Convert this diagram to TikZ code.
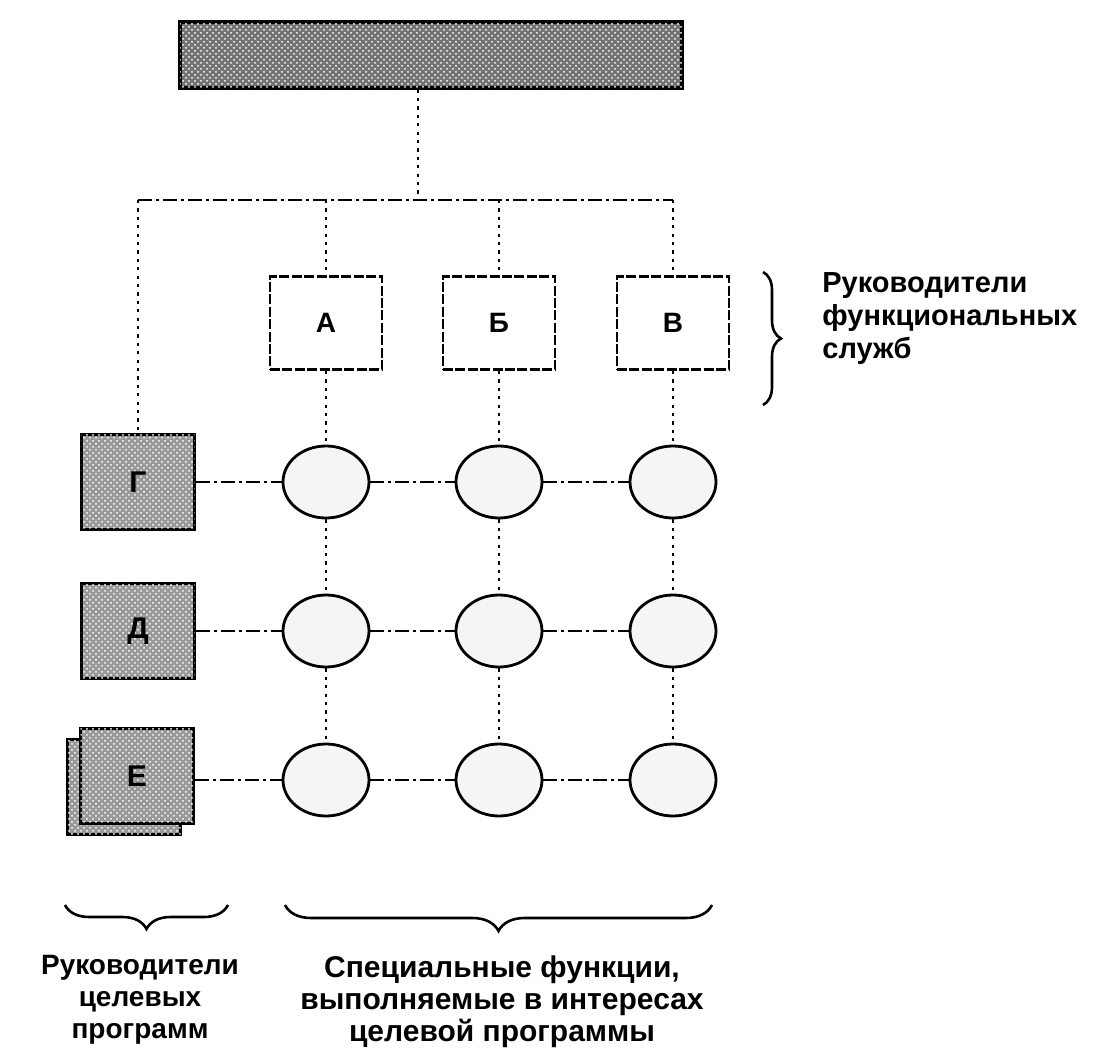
\documentclass[tikz,border=0pt]{standalone}
\usepackage{fontspec}
\setmainfont{Liberation Sans}
\usetikzlibrary{patterns,shapes.geometric,decorations.pathreplacing}
\begin{document}
\begin{tikzpicture}[x=0.5pt,y=-0.5pt,
  darkbox/.style={draw,line width=1.6pt,fill=black!55,
     postaction={pattern=crosshatch dots,pattern color=white},
     inner sep=0pt,font=\bfseries\fontsize{15}{15}\selectfont},
  progbox/.style={darkbox,fill=black!40,minimum width=56.5pt,minimum height=47.5pt},
  funcbox/.style={draw,line width=1.4pt,dash pattern=on 5pt off 1.2pt,fill=white,
     minimum width=56pt,minimum height=46.5pt,inner sep=0pt,
     font=\bfseries\fontsize{14}{14}\selectfont},
  cell/.style={draw,ellipse,line width=1.4pt,fill=black!4,minimum width=43pt,
     minimum height=36pt,inner sep=0pt},
  vcon/.style={line width=1.1pt,dash pattern=on 1.6pt off 2.6pt},
  hcon/.style={line width=1.1pt,dash pattern=on 7pt off 2pt on 1.5pt off 2pt},
  bracestyle/.style={line width=1.3pt,decorate},
  lbl/.style={font=\bfseries\fontsize{14}{16}\selectfont,inner sep=0pt}
]
\useasboundingbox (0,0) rectangle (1116,1050);

% top box
\node[darkbox,minimum width=251pt,minimum height=33pt] (top) at (431,55) {};
\coordinate (j) at (418,200);
\coordinate (busL) at (138,200);
\coordinate (busR) at (673,200);

% functional managers
\node[funcbox] (A) at (326,323) {А};
\node[funcbox] (B) at (499,323) {Б};
\node[funcbox] (V) at (673,323) {В};

% program managers
\node[progbox] (G) at (138,482) {Г};
\node[progbox] (D) at (138,631) {Д};
\node[progbox,fill=black!40,postaction={}] (Esh) at (124,787) {};
\node[progbox] (E) at (137,776) {Е};

% cells
\foreach \c/\x in {1/326,2/499,3/673}{
  \node[cell] (c1\c) at (\x,482) {};
  \node[cell] (c2\c) at (\x,631) {};
  \node[cell] (c3\c) at (\x,780) {};
}

% bus
\draw[vcon] (top.south -| j) -- (j);
\draw[hcon] (busL) -- (busR);
\draw[vcon] (busL) -- (G.north);
\draw[vcon] (A.north |- busL) -- (A.north);
\draw[vcon] (B.north |- busL) -- (B.north);
\draw[vcon] (busR) -- (V.north);

% grid connections
\draw[vcon] (A.south) -- (c11.north);
\draw[vcon] (B.south) -- (c12.north);
\draw[vcon] (V.south) -- (c13.north);
\foreach \c in {1,2,3}{
  \draw[vcon] (c1\c.south) -- (c2\c.north);
  \draw[vcon] (c2\c.south) -- (c3\c.north);
}
\draw[hcon] (G.east) -- (c11.west);
\draw[hcon] (D.east) -- (c21.west);
\draw[hcon] (c31.west -| E.east) -- (c31.west);
\foreach \r in {1,2,3}{
  \draw[hcon] (c\r1.east) -- (c\r2.west);
  \draw[hcon] (c\r2.east) -- (c\r3.west);
}

% braces
\coordinate (rbT) at (763,272);
\coordinate (rbB) at (763,405);
\draw[bracestyle,decoration={brace,amplitude=9pt}] (rbT) -- (rbB);
\coordinate (lbL) at (65,905);
\coordinate (lbR) at (228,905);
\draw[bracestyle,decoration={brace,amplitude=12pt}] (lbR) -- (lbL);
\coordinate (mbL) at (285,905);
\coordinate (mbR) at (712,905);
\draw[bracestyle,decoration={brace,amplitude=13pt}] (mbR) -- (mbL);

% labels
\node[lbl,font=\bfseries\fontsize{14.5}{16.5}\selectfont,align=left,anchor=north west] (tf) at (822,272)
  {Руководители\\функциональных\\служб};
\node[lbl,align=center,anchor=north] (tp) at (140,955)
  {Руководители\\целевых\\программ};
\node[lbl,font=\bfseries\fontsize{15}{16}\selectfont,align=center,anchor=north] (ts) at (502,955)
  {Специальные функции,\\выполняемые в интересах\\целевой программы};
\end{tikzpicture}
\end{document}
